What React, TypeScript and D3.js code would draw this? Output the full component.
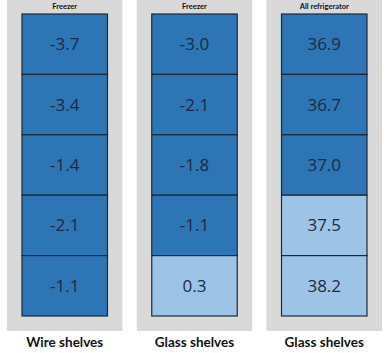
import React from "react";
import * as d3 from "d3";

const panelTitles = ["Freezer", "Freezer", "All refrigerator"];
const panelLabels = ["Wire shelves", "Glass shelves", "Glass shelves"];
const wireFreezer = [-3.7, -3.4, -1.4, -2.1, -1.1];
const glassFreezer = [-3.0, -2.1, -1.8, -1.1, 0.3];
const glassFridge = [36.9, 36.7, 37.0, 37.5, 38.2];
const thresholds = [0, 0, 37.0];
const series = [wireFreezer, glassFreezer, glassFridge];

const W = 387;
const H = 353;

export default function App() {
  const panelX = d3.scaleBand<number>().domain([0, 1, 2]).range([7, 382]).paddingInner(0.11).paddingOuter(0);
  const rowY = d3.scaleBand<number>().domain([0, 1, 2, 3, 4]).range([14, 316]);
  const dark = "#2e75b6";
  const light = "#9dc3e6";
  const pw = panelX.bandwidth();
  const inset = 15;
  return (
    <svg width={W} height={H} style={{ position: "absolute", left: 0, top: 0, background: "#fff" }}>
      {series.map((vals, p) => {
        const x0 = panelX(p)!;
        return (
          <g key={p}>
            <rect x={x0} y={0} width={pw} height={331} fill="#d9d9d9" />
            <text x={x0 + pw / 2} y={9} textAnchor="middle" fontFamily="Lato, sans-serif" fontWeight="bold" fontSize={7.5} fill="#111">
              {panelTitles[p]}
            </text>
            {vals.map((v, i) => (
              <g key={i}>
                <rect
                  x={x0 + inset}
                  y={rowY(i)!}
                  width={pw - 2 * inset}
                  height={rowY.bandwidth()}
                  fill={v > thresholds[p] ? light : dark}
                  stroke="#1c2838"
                  strokeWidth={1.2}
                />
                <text
                  x={x0 + pw / 2}
                  y={rowY(i)! + rowY.bandwidth() / 2 + 6}
                  textAnchor="middle"
                  fontFamily="'Open Sans', sans-serif"
                  fontSize={17}
                  fill="#1b2a48"
                >
                  {v.toFixed(1)}
                </text>
              </g>
            ))}
            <text x={x0 + pw / 2} y={347} textAnchor="middle" fontFamily="Lato, sans-serif" fontWeight="bold" fontSize={13.5} fill="#111">
              {panelLabels[p]}
            </text>
          </g>
        );
      })}
    </svg>
  );
}
